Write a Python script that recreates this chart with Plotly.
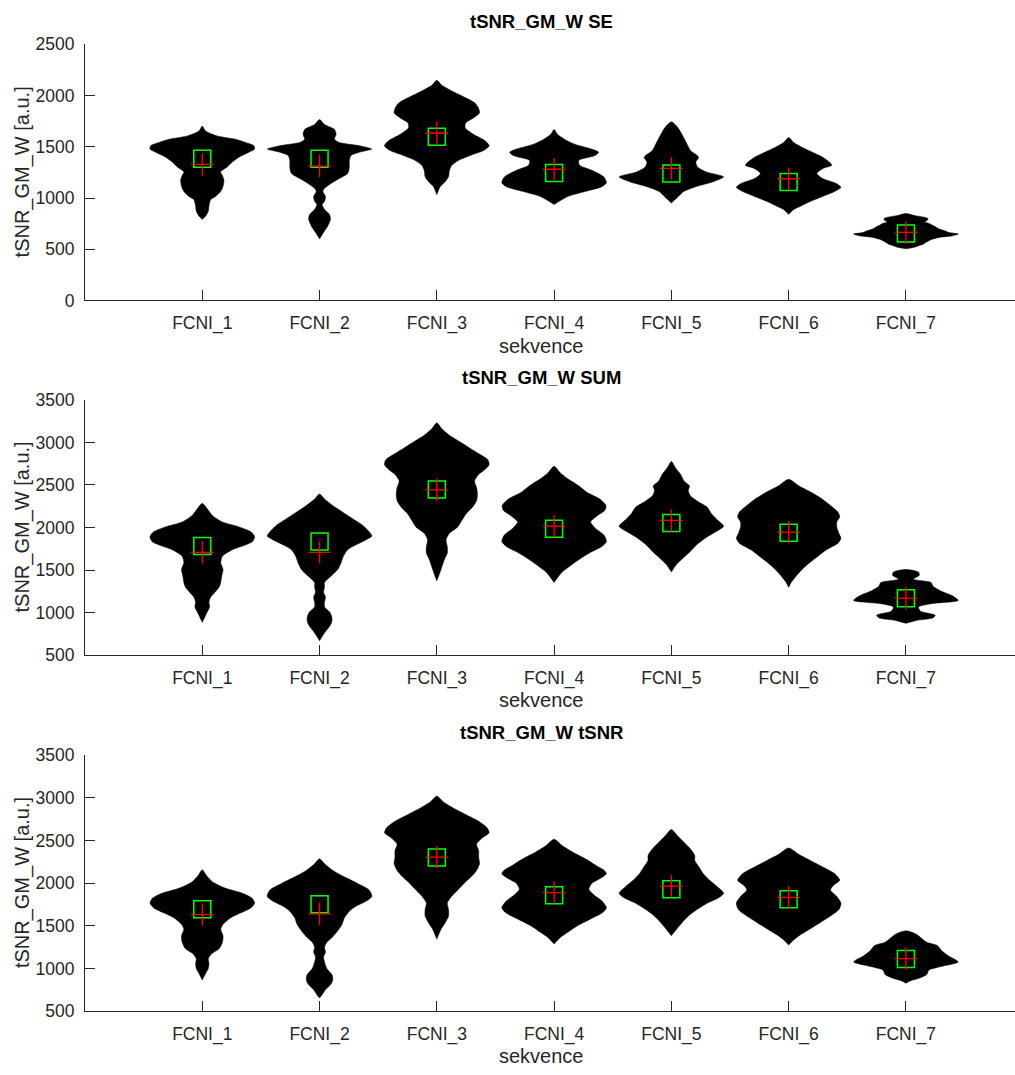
import plotly.graph_objects as go

# ---------------- data ----------------
categories = ["FCNI_1", "FCNI_2", "FCNI_3", "FCNI_4", "FCNI_5", "FCNI_6", "FCNI_7"]
titles = ["tSNR_GM_W SE", "tSNR_GM_W SUM", "tSNR_GM_W tSNR"]
x_label = "sekvence"
y_label = "tSNR_GM_W [a.u.]"

# Panel 1: SE  -- density profiles (value levels, relative density) per sequence
se_levels = [
    [1702, 1654, 1606, 1574, 1542, 1511, 1478, 1447, 1399, 1351, 1303, 1255, 1223, 1175, 1111, 1063, 1015, 984, 951, 920, 872, 824, 792],
    [1766, 1718, 1670, 1622, 1574, 1542, 1511, 1478, 1447, 1415, 1367, 1303, 1239, 1191, 1143, 1095, 1063, 1015, 968, 936, 888, 840, 792, 728, 664, 601],
    [2149, 2101, 2037, 1973, 1926, 1878, 1830, 1782, 1734, 1686, 1622, 1559, 1511, 1463, 1415, 1367, 1319, 1271, 1207, 1159, 1111, 1032],
    [1670, 1622, 1574, 1526, 1478, 1447, 1415, 1367, 1319, 1271, 1207, 1150, 1111, 1063, 1015, 968, 936],
    [1744, 1702, 1654, 1590, 1526, 1463, 1399, 1351, 1303, 1255, 1207, 1159, 1111, 1063, 1015, 951],
    [1590, 1542, 1494, 1447, 1399, 1351, 1319, 1287, 1239, 1191, 1143, 1105, 1063, 1015, 968, 920, 888, 840],
    [850, 830, 812, 798, 780, 766, 750, 735, 718, 702, 690, 680, 665, 648, 630, 616, 600, 584, 568, 552, 535, 520, 505],
]
se_density = [
    [0, 10, 45, 100, 130, 155, 157, 140, 110, 90, 75, 55, 60, 65, 62, 55, 40, 25, 22, 20, 18, 10, 0],
    [0, 15, 45, 50, 45, 60, 120, 158, 120, 95, 90, 90, 85, 60, 35, 15, 10, 18, 15, 8, 15, 30, 33, 25, 12, 0],
    [0, 15, 50, 90, 115, 125, 128, 110, 87, 85, 110, 145, 157, 140, 100, 65, 45, 38, 35, 25, 10, 0],
    [0, 10, 30, 60, 110, 130, 120, 72, 75, 110, 145, 153, 140, 90, 40, 15, 0],
    [0, 15, 25, 35, 45, 55, 78, 70, 75, 100, 150, 120, 70, 35, 20, 0],
    [0, 15, 40, 70, 100, 120, 127, 100, 83, 100, 140, 154, 135, 100, 65, 35, 15, 0],
    [0, 25, 55, 65, 62, 55, 70, 78, 88, 95, 105, 115, 125, 154, 135, 98, 80, 68, 60, 52, 38, 25, 0],
]
se_mean = [1383, 1383, 1597, 1245, 1239, 1156, 654]
se_median = [1328, 1312, 1635, 1281, 1290, 1188, 664]

# Panel 2: SUM
sum_levels = [
    [2284, 2219, 2142, 2065, 2007, 1949, 1892, 1834, 1796, 1738, 1661, 1585, 1507, 1430, 1354, 1296, 1239, 1181, 1123, 1065, 1008, 950, 884],
    [2393, 2335, 2258, 2180, 2104, 2027, 1949, 1900, 1854, 1796, 1738, 1661, 1585, 1507, 1430, 1354, 1296, 1239, 1181, 1123, 1065, 1008, 950, 892, 835, 777, 700, 668],
    [3230, 3161, 3085, 3008, 2930, 2854, 2796, 2739, 2681, 2623, 2546, 2469, 2393, 2315, 2238, 2162, 2084, 2007, 1931, 1854, 1776, 1700, 1623, 1507, 1372],
    [2719, 2642, 2566, 2488, 2411, 2335, 2258, 2200, 2142, 2065, 1989, 1911, 1834, 1776, 1700, 1623, 1546, 1469, 1354],
    [2777, 2700, 2623, 2546, 2488, 2431, 2373, 2315, 2238, 2162, 2084, 2015, 1949, 1873, 1796, 1719, 1642, 1565, 1476],
    [2566, 2488, 2411, 2335, 2258, 2180, 2123, 2065, 2007, 1931, 1873, 1816, 1738, 1661, 1585, 1507, 1430, 1354, 1296],
    [1507, 1476, 1438, 1392, 1354, 1308, 1257, 1199, 1142, 1104, 1065, 1015, 969, 938, 907, 873],
]
sum_density = [
    [0, 15, 30, 60, 110, 145, 156, 150, 130, 90, 60, 55, 62, 58, 55, 50, 38, 25, 20, 22, 15, 8, 0],
    [0, 15, 40, 70, 100, 130, 150, 158, 140, 110, 85, 72, 65, 55, 35, 15, 15, 12, 18, 15, 15, 30, 37, 37, 30, 18, 5, 0],
    [0, 12, 30, 55, 80, 105, 122, 125, 115, 100, 90, 95, 97, 95, 85, 70, 60, 50, 30, 22, 25, 25, 18, 10, 0],
    [0, 15, 35, 60, 80, 110, 125, 122, 105, 88, 100, 120, 126, 115, 85, 60, 38, 18, 0],
    [0, 10, 22, 30, 43, 40, 45, 60, 85, 95, 110, 124, 105, 80, 60, 45, 28, 12, 0],
    [0, 25, 55, 80, 100, 118, 122, 115, 115, 120, 125, 118, 90, 70, 50, 32, 18, 6, 0],
    [0, 30, 32, 18, 60, 65, 82, 110, 125, 60, 30, 35, 70, 65, 25, 0],
]
sum_mean = [1781, 1834, 2446, 1984, 2053, 1938, 1169]
sum_median = [1707, 1707, 2442, 2015, 2084, 1946, 1169]

# Panel 3: tSNR
tsnr_levels = [
    [2157, 2092, 2016, 1939, 1881, 1824, 1766, 1709, 1651, 1593, 1516, 1459, 1382, 1306, 1229, 1171, 1114, 1056, 998, 941, 865],
    [2284, 2227, 2149, 2073, 1996, 1919, 1843, 1786, 1728, 1671, 1593, 1516, 1440, 1363, 1306, 1248, 1191, 1133, 1076, 998, 922, 865, 807, 750, 692, 653],
    [3021, 2955, 2879, 2802, 2725, 2649, 2591, 2534, 2457, 2380, 2304, 2227, 2149, 2073, 1996, 1919, 1843, 1766, 1689, 1613, 1536, 1459, 1344],
    [2514, 2437, 2361, 2284, 2207, 2149, 2111, 2054, 1996, 1927, 1862, 1786, 1709, 1651, 1574, 1498, 1421, 1363, 1286],
    [2629, 2552, 2476, 2399, 2322, 2265, 2188, 2111, 2034, 1958, 1881, 1824, 1766, 1689, 1613, 1536, 1459, 1383],
    [2411, 2334, 2257, 2180, 2111, 2034, 1977, 1919, 1843, 1766, 1689, 1613, 1536, 1459, 1383, 1325, 1275],
    [1440, 1401, 1363, 1306, 1268, 1210, 1152, 1076, 1029, 980, 929, 891, 853, 826],
]
tsnr_density = [
    [0, 12, 30, 70, 120, 148, 156, 145, 115, 85, 62, 55, 62, 60, 50, 28, 18, 20, 18, 10, 0],
    [0, 15, 40, 75, 115, 150, 158, 140, 110, 90, 75, 68, 55, 38, 22, 15, 18, 12, 15, 22, 38, 40, 33, 18, 8, 0],
    [0, 15, 40, 70, 100, 120, 125, 110, 95, 100, 100, 102, 95, 82, 65, 50, 35, 25, 28, 28, 20, 10, 0],
    [0, 20, 45, 75, 100, 120, 125, 110, 90, 83, 95, 115, 125, 115, 85, 55, 32, 15, 0],
    [0, 15, 30, 45, 55, 55, 65, 75, 90, 108, 123, 110, 85, 60, 40, 25, 12, 0],
    [0, 25, 55, 85, 110, 122, 108, 100, 115, 125, 120, 100, 75, 50, 25, 10, 0],
    [0, 25, 35, 50, 75, 85, 100, 125, 90, 55, 50, 35, 10, 0],
]
tsnr_mean = [1694, 1751, 2299, 1858, 1927, 1812, 1110]
tsnr_median = [1631, 1639, 2304, 1889, 1965, 1832, 1114]

y_ranges = [[0, 2500], [500, 3500], [500, 3500]]
y_ticks = [[0, 500, 1000, 1500, 2000, 2500],
           [500, 1000, 1500, 2000, 2500, 3000, 3500],
           [500, 1000, 1500, 2000, 2500, 3000, 3500]]

# ---------------- layout geometry ----------------
W, H = 1015, 1075
plot_left = 85
plot_tops = [35, 397.3, 759.3]
plot_bottoms = [296, 657.3, 1020]
half_width = 0.446
x_range = [0, 7.93]
axis_col = "#262626"
FONT = "Liberation Sans, Arial, sans-serif"

fig = go.Figure()

panels = [
    (se_levels, se_density, se_mean, se_median),
    (sum_levels, sum_density, sum_mean, sum_median),
    (tsnr_levels, tsnr_density, tsnr_mean, tsnr_median),
]

for p, (levels, dens, means, medians) in enumerate(panels):
    xa = "x" if p == 0 else f"x{p+1}"
    ya = "y" if p == 0 else f"y{p+1}"
    for i, (lv, dn) in enumerate(zip(levels, dens)):
        c = i + 1
        m = max(dn)
        rel = [d / m * half_width for d in dn]
        xs = [c + r for r in rel] + [c - r for r in reversed(rel)]
        ys = list(lv) + list(reversed(lv))
        fig.add_trace(go.Scatter(
            x=xs, y=ys, mode="lines", fill="toself", fillcolor="black",
            line=dict(color="black", width=0.5, shape="spline", smoothing=0.7),
            xaxis=xa, yaxis=ya, hoverinfo="skip", showlegend=False))
    xs_c = list(range(1, len(categories) + 1))
    fig.add_trace(go.Scatter(
        x=xs_c, y=means, mode="markers", xaxis=xa, yaxis=ya, showlegend=False,
        marker=dict(symbol="square-open", size=17, color="#00ff00",
                    line=dict(color="#00ff00", width=1.5))))
    fig.add_trace(go.Scatter(
        x=xs_c, y=medians, mode="markers", xaxis=xa, yaxis=ya, showlegend=False,
        marker=dict(symbol="cross-thin-open", size=16, color="#ff0000",
                    line=dict(color="#ff0000", width=1.3))))

layout = dict(
    width=W, height=H, margin=dict(l=0, r=0, t=0, b=0),
    paper_bgcolor="white", plot_bgcolor="white", showlegend=False,
    font=dict(family=FONT, color=axis_col, size=17.5),
)
annotations = []
for p in range(3):
    sx = "" if p == 0 else str(p + 1)
    y0 = 1 - plot_bottoms[p] / H
    y1 = 1 - plot_tops[p] / H
    layout["xaxis" + sx] = dict(
        domain=[plot_left / W, 1.0], range=x_range, anchor="y" + sx,
        tickvals=list(range(1, len(categories) + 1)), ticktext=categories,
        ticks="inside", ticklen=10, tickwidth=1, tickcolor=axis_col,
        showline=True, linecolor=axis_col, linewidth=1,
        showgrid=False, zeroline=False, ticklabelstandoff=7,
        tickfont=dict(family=FONT, size=17.5, color=axis_col), fixedrange=True)
    layout["yaxis" + sx] = dict(
        domain=[y0, y1], range=y_ranges[p], anchor="x" + sx,
        tickvals=y_ticks[p], ticks="inside", ticklen=10, tickwidth=1,
        tickcolor=axis_col, showline=True, linecolor=axis_col, linewidth=1,
        showgrid=False, zeroline=False, ticklabelstandoff=6,
        tickfont=dict(family=FONT, size=17.5, color=axis_col), fixedrange=True)
    yc = 1 - (plot_tops[p] + plot_bottoms[p]) / 2 / H
    annotations.append(dict(
        text=f"<b>{titles[p]}</b>", x=541.5 / W, y=1 - (plot_tops[p] - 23) / H,
        xref="paper", yref="paper", showarrow=False, xanchor="center", yanchor="middle",
        font=dict(family=FONT, size=18.5, color="black")))
    annotations.append(dict(
        text=x_label, x=541.5 / W, y=1 - (plot_bottoms[p] + 46) / H,
        xref="paper", yref="paper", showarrow=False, xanchor="center", yanchor="middle",
        font=dict(family=FONT, size=20, color=axis_col)))
    annotations.append(dict(
        text=y_label, x=22 / W, y=yc, textangle=-90,
        xref="paper", yref="paper", showarrow=False, xanchor="center", yanchor="middle",
        font=dict(family=FONT, size=20, color=axis_col)))
layout["annotations"] = annotations
fig.update_layout(**layout)

fig.write_html("out.html")
